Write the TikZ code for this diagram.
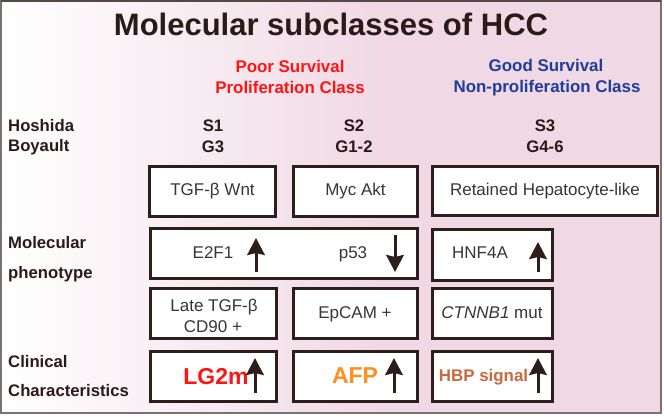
\documentclass[tikz,border=0pt]{standalone}
\usepackage{fontspec}
\setmainfont{Liberation Sans}
\usetikzlibrary{arrows.meta}
\definecolor{pinkbg}{HTML}{F0D9E5}
\definecolor{darkc}{HTML}{2B1B17}
\definecolor{boxc}{HTML}{2D1E1A}
\definecolor{txtc}{HTML}{363636}
\definecolor{framec}{HTML}{7A7272}
\definecolor{redc}{HTML}{FF1414}
\definecolor{bluec}{HTML}{1F3D99}
\definecolor{afpc}{HTML}{FF8F1F}
\definecolor{hbpc}{HTML}{C96A3E}
\begin{document}
\begin{tikzpicture}[x=1pt,y=-1pt,
  box/.style={draw=boxc, line width=3pt, fill=white, inner sep=0pt, text=txtc,
    font=\fontsize{17}{20}\selectfont},
  lbl/.style={anchor=base west, inner sep=0pt, text=darkc, font=\fontsize{16.7}{20}\selectfont\bfseries},
  hdr/.style={anchor=base, text=darkc, font=\fontsize{16.7}{20}\selectfont\bfseries},
  cls/.style={anchor=base, font=\fontsize{16.9}{20}\selectfont\bfseries},
  btxt/.style={anchor=base, text=txtc, font=\fontsize{17}{20}\selectfont},
  big/.style={anchor=base, font=\fontsize{23}{26}\selectfont\bfseries},
  arr/.style={-{Stealth[width=17.5pt,length=17pt,inset=2pt]}, line width=3pt, draw=boxc}
]
\useasboundingbox (0,0) rectangle (664,416);
\fill[white] (0,0) rectangle (664,416);
\shade[left color=white, right color=pinkbg] (1,1) rectangle (380,413);
\fill[pinkbg] (379.5,1) rectangle (661,413);
\draw[framec, line width=1.5pt] (1,1) rectangle (661,413);
\draw[darkc!80, line width=1.5pt] (1,1) -- (661,1);

% title
\node[anchor=base, text=darkc, font=\fontsize{31}{36}\selectfont\bfseries] (title) at (331,35) {Molecular subclasses of HCC};

% class headers
\node[cls, text=redc] (poor) at (290,72) {Poor Survival};
\node[cls, text=redc] (prolif) at (290,93) {Proliferation Class};
\node[cls, text=bluec] (good) at (546,71) {Good Survival};
\node[cls, text=bluec] (nonprolif) at (547,92) {Non-proliferation Class};

% row labels
\node[lbl] (hoshida) at (8,131) {Hoshida};
\node[lbl] (boyault) at (8,151) {Boyault};
\node[lbl] (molec) at (8,248) {Molecular};
\node[lbl] (pheno) at (8,278) {phenotype};
\node[lbl] (clin) at (8,367) {Clinical};
\node[lbl] (charac) at (8,396) {Characteristics};

\node[hdr] (s1) at (213,131) {S1};
\node[hdr] (g3) at (213,152) {G3};
\node[hdr] (s2) at (354,131) {S2};
\node[hdr] (g12) at (354,152) {G1-2};
\node[hdr] (s3) at (545,131) {S3};
\node[hdr] (g46) at (545,152) {G4-6};

% boxes
\node[box, minimum width=126, minimum height=50] (b1) at (212.5,191.5) {TGF-β Wnt};
\node[box, minimum width=124, minimum height=50] (b2) at (355.5,191.5) {Myc Akt};
\node[box, minimum width=225, minimum height=49] (b3) at (545,191) {Retained Hepatocyte-like};

\node[box, minimum width=267, minimum height=50] (b4) at (284,253.5) {};
\node[box, minimum width=120, minimum height=51] (b5) at (492.5,255) {};

\node[box, minimum width=126, minimum height=50] (b6) at (213.5,313.5) {};
\node[box, minimum width=124, minimum height=50] (b7) at (355.5,313.5) {};
\node[box, minimum width=120, minimum height=50] (b8) at (492.5,313.5) {};

\node[box, minimum width=126, minimum height=50] (b9) at (213.5,376.5) {};
\node[box, minimum width=124, minimum height=50] (b10) at (355.5,376.5) {};
\node[box, minimum width=120, minimum height=50] (b11) at (492.5,376.5) {};

% box texts
\node[btxt] (e2f1) at (213,258) {E2F1};
\node[btxt] (p53) at (353,258) {p53};
\node[btxt] (hnf) at (480,258) {HNF4A};
\node[btxt] (late) at (214,311) {Late TGF-β};
\node[btxt] (cd90) at (213,332) {CD90 +};
\node[btxt] (epcam) at (355,318) {EpCAM +};
\node[btxt] (ctnnb) at (492,318) {\textit{CTNNB1} mut};
\node[big, text=redc] (lg2m) at (216,384) {LG2m};
\node[big, text=afpc] (afp) at (355,383) {AFP};
\node[cls, text=hbpc] (hbp) at (483.5,381) {HBP signal};

% arrows
\coordinate (a1s) at (256,272); \coordinate (a1e) at (256,238);
\coordinate (a2s) at (395,235); \coordinate (a2e) at (395,272);
\coordinate (a3s) at (538,272); \coordinate (a3e) at (538,242);
\coordinate (a4s) at (255,393); \coordinate (a4e) at (255,358);
\coordinate (a5s) at (394,393); \coordinate (a5e) at (394,358);
\coordinate (a6s) at (538,393); \coordinate (a6e) at (538,358);
\draw[arr] (a1s) -- (a1e);
\draw[arr] (a2s) -- (a2e);
\draw[arr] (a3s) -- (a3e);
\draw[arr] (a4s) -- (a4e);
\draw[arr] (a5s) -- (a5e);
\draw[arr] (a6s) -- (a6e);
\end{tikzpicture}
\end{document}
